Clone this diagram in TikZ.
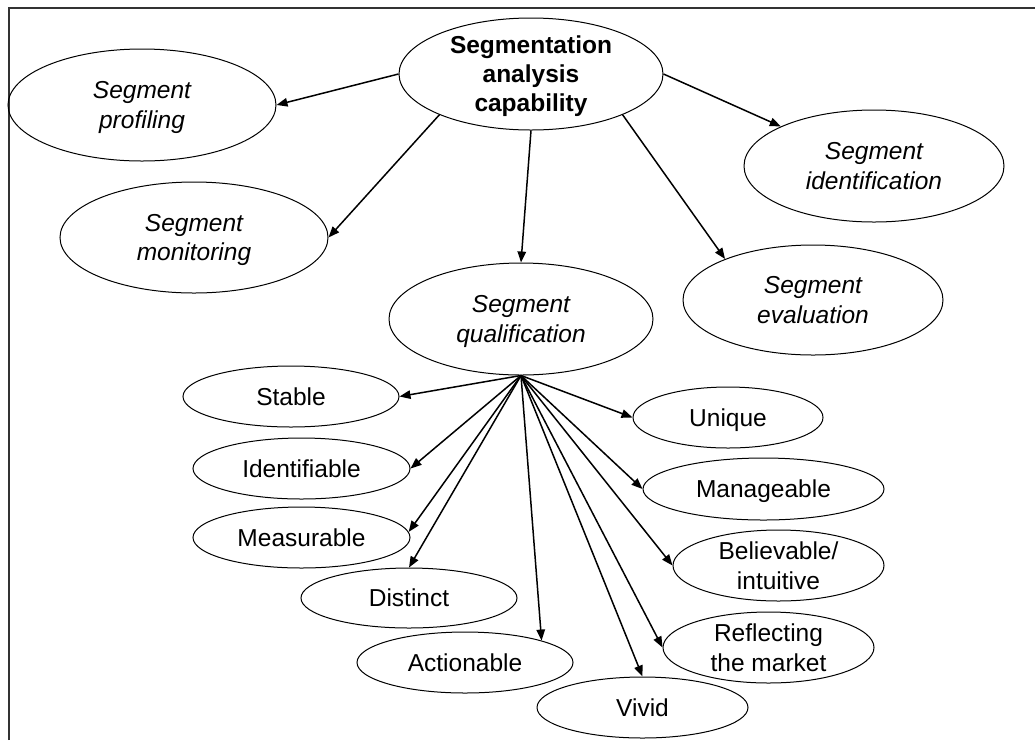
\documentclass[tikz,border=0pt]{standalone}
\usepackage{fontspec}
\setmainfont{Liberation Sans}
\usetikzlibrary{shapes.geometric,arrows.meta}
\begin{document}
\begin{tikzpicture}[x=1pt,y=-1pt,
  oval/.style={ellipse,draw,line width=1pt,inner sep=0pt,align=center,
    text depth=0pt,font=\fontsize{24.5}{29.5}\selectfont},
  link/.style={line width=1.5pt,-{Triangle[length=11pt,width=8.5pt]}}]
\useasboundingbox (0,0) rectangle (1035,740);
% frame edges
\draw[line width=2pt,black!80] (8.5,740) -- (8.5,7.5) -- (1035,7.5);

% upper level
\node[oval,minimum width=264,minimum height=112,font=\fontsize{24.5}{29}\selectfont\bfseries]
  (title) at (531,74) {Segmentation\\analysis\\capability};
\node[oval,minimum width=268,minimum height=112] (prof) at (142,105) {\itshape Segment\\\itshape profiling};
\node[oval,minimum width=268,minimum height=111] (mon) at (194,237.5) {\itshape Segment\\\itshape monitoring};
\node[oval,minimum width=260,minimum height=112] (ident) at (874,166) {\itshape Segment\\\itshape identification};
\node[oval,minimum width=260,minimum height=110] (eval) at (813,300) {\itshape Segment\\\itshape evaluation};
\node[oval,minimum width=264,minimum height=112] (qual) at (521,319) {\itshape Segment\\\itshape qualification};

% qualification criteria
\node[oval,minimum width=216,minimum height=61] (stable) at (291,396.5) {Stable};
\node[oval,minimum width=217,minimum height=61] (identif) at (301.5,468.5) {Identifiable};
\node[oval,minimum width=217,minimum height=61] (meas) at (301.5,537.5) {Measurable};
\node[oval,minimum width=216,minimum height=60] (dist) at (409,598) {Distinct};
\node[oval,minimum width=216,minimum height=61] (act) at (465,662.5) {Actionable};
\node[oval,minimum width=190,minimum height=61] (uniq) at (728,417.5) {Unique};
\node[oval,minimum width=241,minimum height=62] (man) at (763.5,489) {Manageable};
\node[oval,minimum width=211,minimum height=71] (bel) at (778.5,565.5) {Believable/\\intuitive};
\node[oval,minimum width=211,minimum height=71] (refl) at (768.5,647.5) {Reflecting\\the market};
\node[oval,minimum width=211,minimum height=61] (vivid) at (642.5,707.5) {Vivid};

% capability branches
\draw[link] (title.west) -- (prof.east);
\draw[link] (title.204) -- (mon.east);
\draw[link] (title.south) -- (qual.north);
\draw[link] (title.336) -- (eval.155.5);
\draw[link] (title.east) -- (ident.157);

% criteria fan
\coordinate (hub) at (qual.south);
\draw[link] (hub) -- (stable.east);
\draw[link] (hub) -- (identif.east);
\draw[link] (hub) -- (meas.3);
\draw[link] (hub) -- (dist.north);
\draw[link] (hub) -- (act.16.5);
\draw[link] (hub) -- (vivid.north);
\draw[link] (hub) -- (refl.west);
\draw[link] (hub) -- (bel.west);
\draw[link] (hub) -- (man.west);
\draw[link] (hub) -- (uniq.west);
\end{tikzpicture}
\end{document}
